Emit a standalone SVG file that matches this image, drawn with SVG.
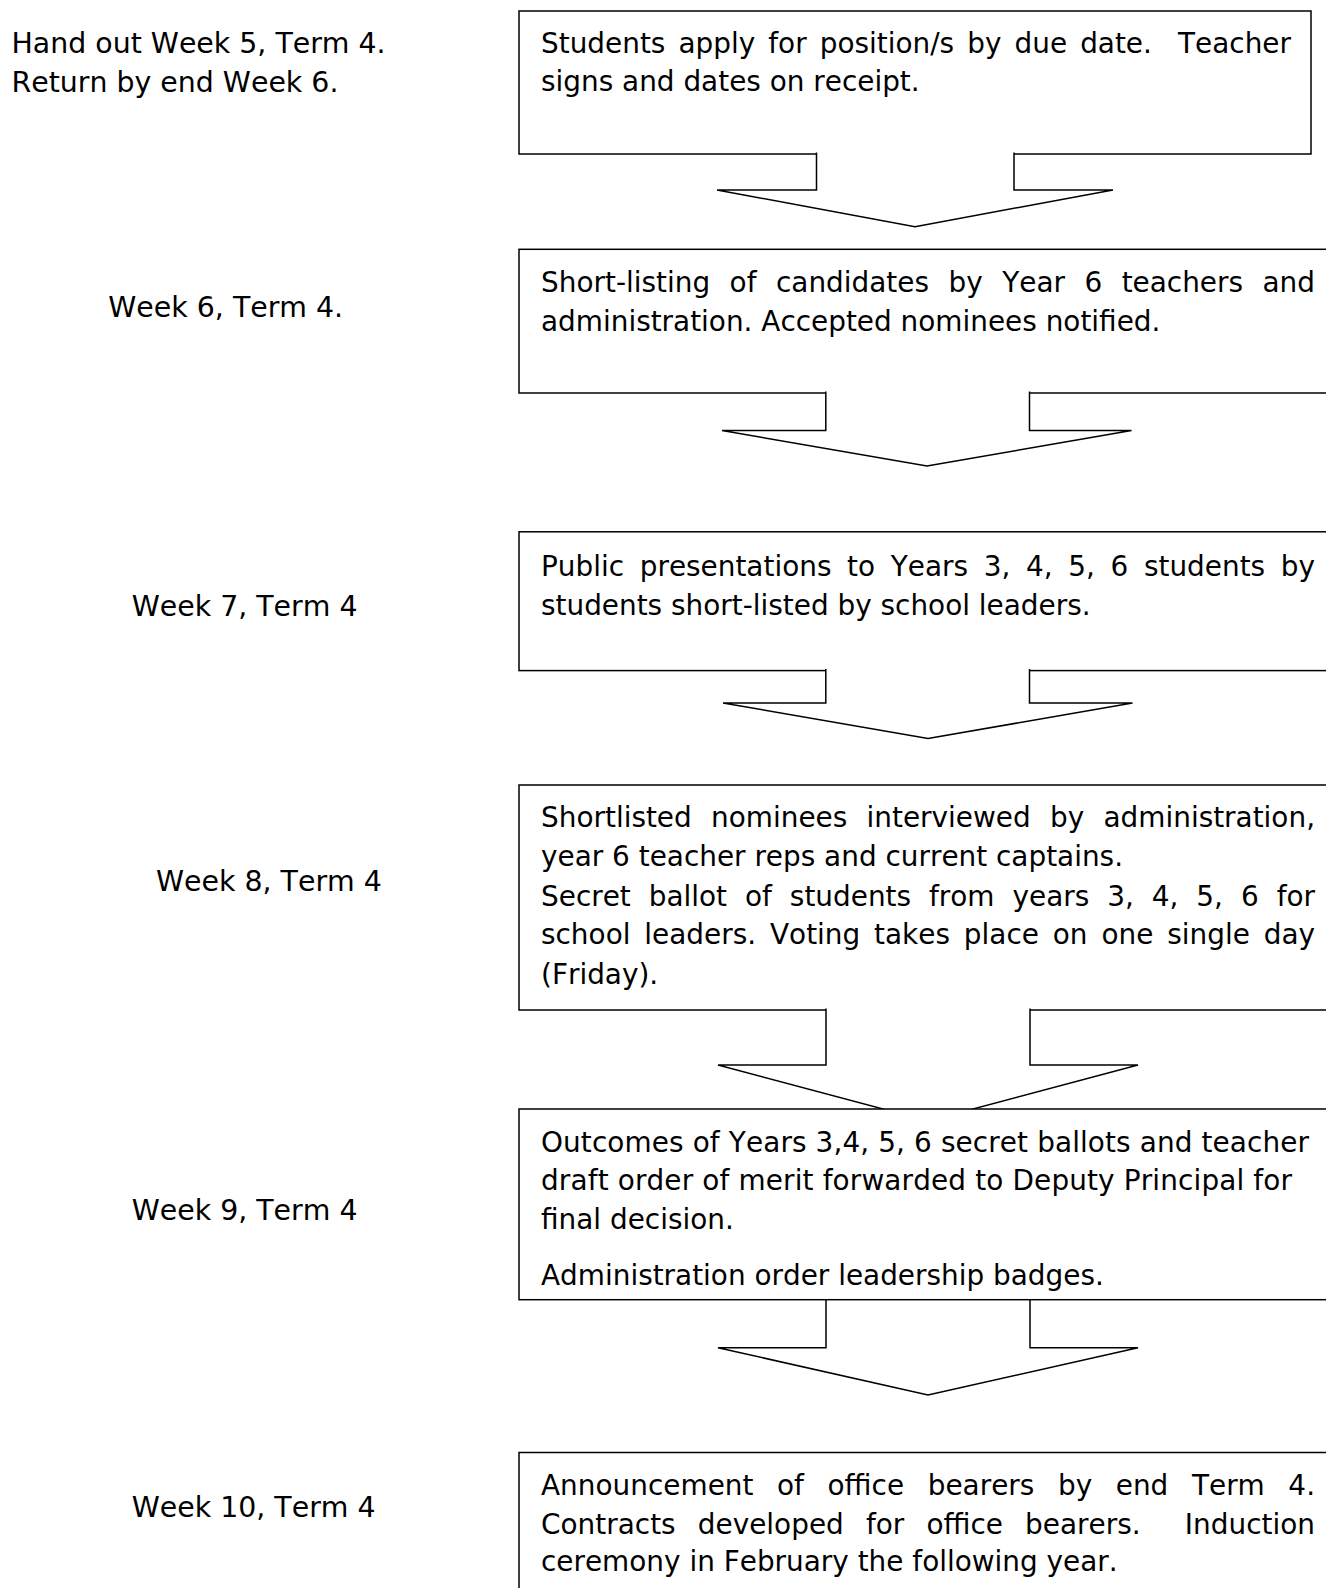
<svg xmlns="http://www.w3.org/2000/svg" width="1326" height="1588" viewBox="0 0 1326 1588">
<style>
.bx{fill:#fff;stroke:#000;stroke-width:1.5}
.ar{fill:#fff;stroke:#000;stroke-width:1.5;stroke-linejoin:miter}
.t{font-family:"DejaVu Sans","Liberation Sans",sans-serif;font-size:27.9px;fill:#000;font-kerning:none}
.lb{font-family:"DejaVu Sans","Liberation Sans",sans-serif;font-size:28.4px;fill:#000;font-kerning:none}
</style>
<rect width="1326" height="1588" fill="#fff"/>
<g id="labels">
<text class="lb" x="11.5" y="53.3">Hand out Week 5, Term 4.</text>
<text class="lb" x="11.5" y="91.7">Return by end Week 6.</text>
<text class="lb" x="108.3" y="316.7">Week 6, Term 4.</text>
<text class="lb" x="131.7" y="616">Week 7, Term 4</text>
<text class="lb" x="156" y="890.5">Week 8, Term 4</text>
<text class="lb" x="131.7" y="1220">Week 9, Term 4</text>
<text class="lb" x="131.7" y="1516.7">Week 10, Term 4</text>
</g>
<g id="node1">
<rect class="bx" x="519" y="11" width="792" height="143"/>
<text class="t" x="541" y="52.7" xml:space="preserve" style="word-spacing:4.2px" textLength="750" lengthAdjust="spacing">Students apply for position/s by due date.  Teacher</text>
<text class="t" x="541" y="91.2">signs and dates on receipt.</text>
</g>
<g id="node2">
<rect class="bx" x="519" y="249.3" width="820" height="143.7"/>
<text class="t" x="541" y="291.7" style="word-spacing:10.6px" textLength="774" lengthAdjust="spacing">Short-listing of candidates by Year 6 teachers and</text>
<text class="t" x="541" y="331.3">administration. Accepted nominees notified.</text>
</g>
<g id="node3">
<rect class="bx" x="519" y="531.8" width="820" height="138.8"/>
<text class="t" x="541" y="576.4" style="word-spacing:6.8px" textLength="774" lengthAdjust="spacing">Public presentations to Years 3, 4, 5, 6 students by</text>
<text class="t" x="541" y="614.9">students short-listed by school leaders.</text>
</g>
<g id="node4">
<rect class="bx" x="519" y="785" width="820" height="225"/>
<text class="t" x="541" y="826.6" style="word-spacing:10.4px" textLength="774" lengthAdjust="spacing">Shortlisted nominees interviewed by administration,</text>
<text class="t" x="541" y="866.1">year 6 teacher reps and current captains.</text>
<text class="t" x="541" y="905.6" style="word-spacing:9.1px" textLength="774" lengthAdjust="spacing">Secret ballot of students from years 3, 4, 5, 6 for</text>
<text class="t" x="541" y="944.1" style="word-spacing:5px" textLength="774" lengthAdjust="spacing">school leaders. Voting takes place on one single day</text>
<text class="t" x="541" y="983.6">(Friday).</text>
</g>
<g id="connectors">
<path class="ar" d="M816.5,152.5 V190 H717 L915,226.7 L1113,190 H1014 V152.5"/>
<path class="ar" d="M825.8,391.5 V430.5 H722 L927,466 L1131.5,430.5 H1029.5 V391.5"/>
<path class="ar" d="M825.8,669 V703 H723 L928,738.5 L1132.5,703 H1029.5 V669"/>
<path class="ar" d="M826,1008.5 V1065 H718 L928,1121 L1138,1065 H1030 V1008.5"/>
<path class="ar" d="M826,1298 V1347.7 H718 L928,1395 L1138,1347.7 H1030 V1298"/>
</g>
<g id="node5">
<rect class="bx" x="519" y="1109" width="820" height="190.7"/>
<text class="t" x="541" y="1151.8" textLength="768" lengthAdjust="spacing">Outcomes of Years 3,4, 5, 6 secret ballots and teacher</text>
<text class="t" x="541" y="1190.3" textLength="751" lengthAdjust="spacing">draft order of merit forwarded to Deputy Principal for</text>
<text class="t" x="541" y="1228.8">final decision.</text>
<text class="t" x="541" y="1284.5">Administration order leadership badges.</text>
</g>
<g id="node6">
<rect class="bx" x="519" y="1452.5" width="820" height="150"/>
<text class="t" x="541" y="1495.2" style="word-spacing:14.7px" textLength="774" lengthAdjust="spacing">Announcement of office bearers by end Term 4.</text>
<text class="t" x="541" y="1533.7" xml:space="preserve" style="word-spacing:13.2px" textLength="774" lengthAdjust="spacing">Contracts developed for office bearers.  Induction</text>
<text class="t" x="541" y="1571.1">ceremony in February the following year.</text>
</g>
</svg>
